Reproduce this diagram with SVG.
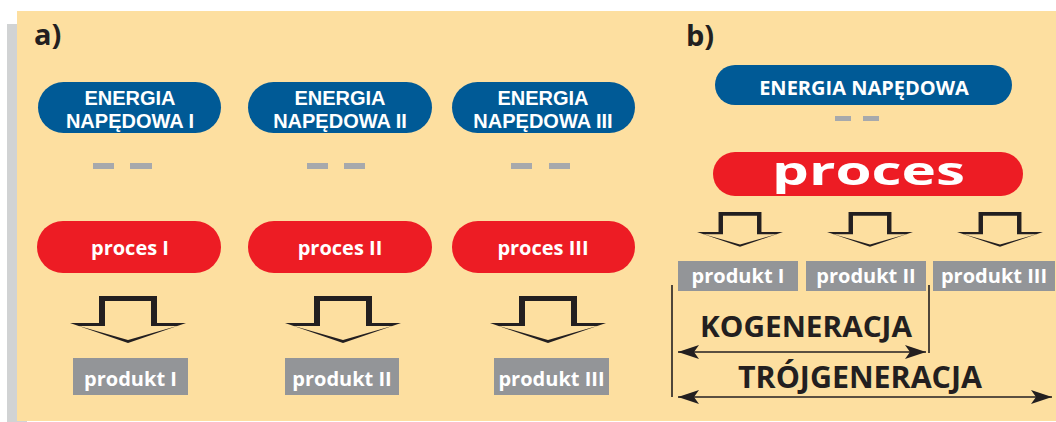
<svg xmlns="http://www.w3.org/2000/svg" width="1056" height="422" viewBox="0 0 1056 422">
<style>
.t{font-family:"Open Sans","Liberation Sans",sans-serif;font-weight:bold;text-anchor:middle;fill:#fff}
.t2{font-family:"Liberation Sans","Open Sans",sans-serif;font-weight:bold;text-anchor:middle;fill:#fff;font-size:20px}
.lbl{font-family:"Open Sans","Liberation Sans",sans-serif;font-weight:bold;fill:#231f20}
.blue{fill:#005a96}
.red{fill:#ed1c24}
.box{fill:#939598}
.dash{fill:#a7a9ac}
.arr{fill:#231f20;fill-rule:evenodd}
.dim{stroke:#231f20;stroke-width:1.6;fill:none}
</style>
<defs>
<path id="blk" class="arr" d="M-29,0 H29 V27 H58 L0,47 L-58,27 H-29 Z M-23,5 H23 V30 H49 L0,44 L-49,30 H-23 Z"/>
<marker id="ah" viewBox="-22 -8 24 16" refX="0" refY="0" markerWidth="24" markerHeight="16" markerUnits="userSpaceOnUse" orient="auto-start-reverse">
<path d="M0,0 L-21,-7 L-16,0 L-21,7 Z" fill="#231f20"/>
</marker>
</defs>
<rect width="1056" height="422" fill="#fff"/>
<rect x="7" y="24" width="20" height="398" fill="#d1d3d4"/>
<rect x="17" y="11" width="1039" height="410" fill="#fddfa0"/>

<text class="lbl" x="34" y="45" font-size="29">a)</text>
<text class="lbl" x="686" y="46" font-size="29">b)</text>

<g id="energia1"><rect class="blue" x="38" y="82" width="183" height="51" rx="25.5"/><text class="t2" x="130" y="104.5">ENERGIA</text><text class="t2" x="130" y="127.5">NAPĘDOWA I</text></g>
<g id="energia2"><rect class="blue" x="248" y="82" width="184" height="51" rx="25.5"/><text class="t2" x="340" y="104.5">ENERGIA</text><text class="t2" x="340" y="127.5">NAPĘDOWA II</text></g>
<g id="energia3"><rect class="blue" x="452" y="82" width="183" height="51" rx="25.5"/><text class="t2" x="543" y="104.5">ENERGIA</text><text class="t2" x="543" y="127.5">NAPĘDOWA III</text></g>

<g id="dashes">
<rect class="dash" x="93" y="163" width="21" height="6"/><rect class="dash" x="130" y="163" width="22" height="6"/>
<rect class="dash" x="307" y="163" width="21" height="6"/><rect class="dash" x="344" y="163" width="21" height="6"/>
<rect class="dash" x="511" y="163" width="21" height="6"/><rect class="dash" x="549" y="163" width="21" height="6"/>
<rect class="dash" x="835" y="116" width="16" height="5"/><rect class="dash" x="863" y="116" width="16" height="5"/>
</g>

<g id="proces1"><rect class="red" x="37" y="221" width="184" height="52" rx="26"/><text class="t" x="130" y="255" font-size="20">proces I</text></g>
<g id="proces2"><rect class="red" x="248" y="221" width="184" height="52" rx="26"/><text class="t" x="340" y="255" font-size="20">proces II</text></g>
<g id="proces3"><rect class="red" x="452" y="221" width="183" height="52" rx="26"/><text class="t" x="543" y="255" font-size="20">proces III</text></g>

<g id="produktA1"><rect class="box" x="73" y="358" width="115" height="37"/><text class="t" x="130.5" y="386" font-size="20">produkt I</text></g>
<g id="produktA2"><rect class="box" x="285" y="358" width="114" height="37"/><text class="t" x="342" y="386" font-size="20">produkt II</text></g>
<g id="produktA3"><rect class="box" x="494" y="358" width="115" height="37"/><text class="t" x="551.5" y="386" font-size="20">produkt III</text></g>

<g id="energiaB"><rect class="blue" x="715" y="65" width="297" height="40" rx="20"/><text class="t" x="864" y="95" font-size="20">ENERGIA NAPĘDOWA</text></g>
<g id="procesB"><rect class="red" x="713" y="152" width="310" height="44" rx="22"/><text class="t" x="868.5" y="185" font-size="40" textLength="193" lengthAdjust="spacingAndGlyphs">proces</text></g>

<g id="produktB1"><rect class="box" x="678" y="261" width="120" height="30"/><text class="t" x="738" y="283" font-size="20">produkt I</text></g>
<g id="produktB2"><rect class="box" x="806" y="261" width="120" height="30"/><text class="t" x="866" y="283" font-size="20">produkt II</text></g>
<g id="produktB3"><rect class="box" x="933" y="261" width="122" height="30"/><text class="t" x="994" y="283" font-size="20">produkt III</text></g>

<g id="connectors">
<use href="#blk" transform="translate(128,296)"/>
<use href="#blk" transform="translate(343,296)"/>
<use href="#blk" transform="translate(548,296)"/>
<use href="#blk" transform="translate(740,212) scale(0.74)"/>
<use href="#blk" transform="translate(870,212) scale(0.74)"/>
<use href="#blk" transform="translate(1000,212) scale(0.74)"/>
<line class="dim" x1="672" y1="285" x2="672" y2="397"/>
<line class="dim" x1="929" y1="285" x2="929" y2="353"/>
<line class="dim" x1="678" y1="352" x2="926" y2="352" marker-start="url(#ah)" marker-end="url(#ah)"/>
<line class="dim" x1="678" y1="397" x2="1052" y2="397" marker-start="url(#ah)" marker-end="url(#ah)"/>
</g>
<g id="labels">
<text class="lbl" x="806" y="337" font-size="28" text-anchor="middle" textLength="212" lengthAdjust="spacingAndGlyphs">KOGENERACJA</text>
<text class="lbl" x="860" y="388" font-size="31" text-anchor="middle" textLength="244" lengthAdjust="spacingAndGlyphs">TRÓJGENERACJA</text>
</g>
</svg>
